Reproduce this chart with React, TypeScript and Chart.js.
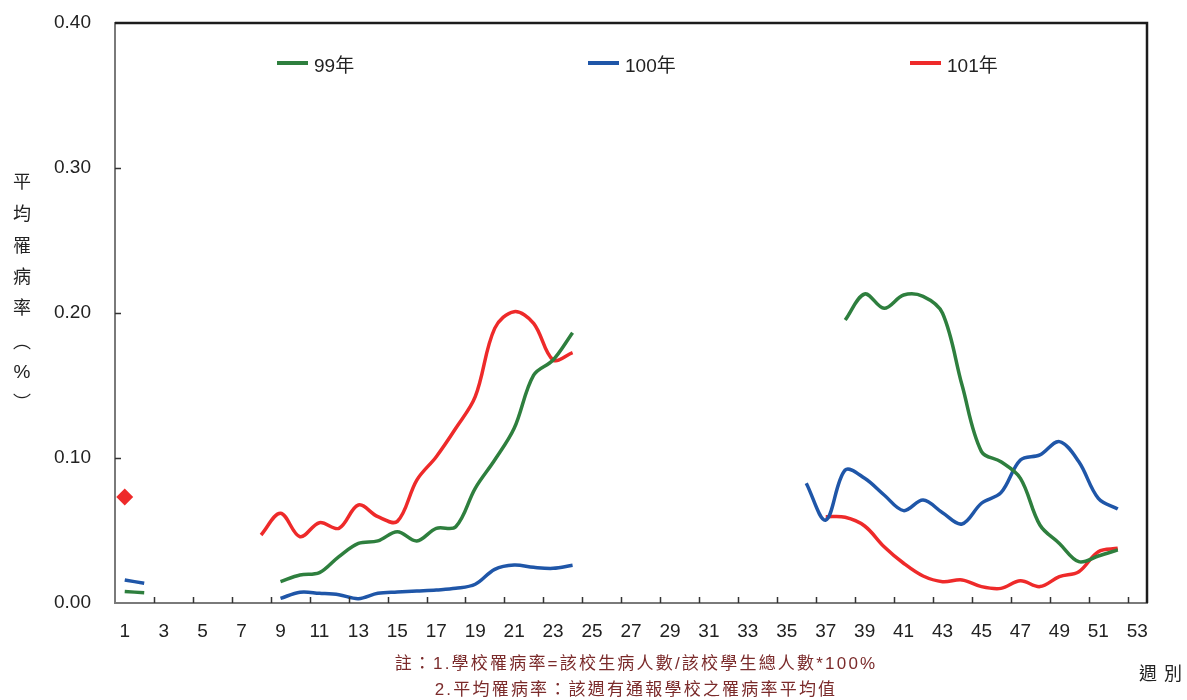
import React, { useEffect, useRef } from 'react';
import { Chart, registerables } from 'chart.js';

Chart.register(...registerables);

// Survey weeks of the year
const weeks = [
  1, 2, 3, 4, 5, 6, 7, 8, 9, 10, 11, 12, 13, 14, 15, 16, 17, 18, 19, 20, 21, 22, 23, 24, 25, 26, 27,
  28, 29, 30, 31, 32, 33, 34, 35, 36, 37, 38, 39, 40, 41, 42, 43, 44, 45, 46, 47, 48, 49, 50, 51, 52, 53,
];

// Labelled weeks on the x axis, and inner tick marks between week pairs
const xTickLabels = [1, 3, 5, 7, 9, 11, 13, 15, 17, 19, 21, 23, 25, 27, 29, 31, 33, 35, 37, 39, 41, 43, 45, 47, 49, 51, 53];
const xTickMarks = [
  2.5, 4.5, 6.5, 8.5, 10.5, 12.5, 14.5, 16.5, 18.5, 20.5, 22.5, 24.5, 26.5, 28.5, 30.5, 32.5, 34.5,
  36.5, 38.5, 40.5, 42.5, 44.5, 46.5, 48.5, 50.5, 52.5,
];
const yTickValues = [0, 0.1, 0.2, 0.3, 0.4];

const seriesNames = ['99年', '100年', '101年'];
const seriesColors = ['#2e7f3e', '#1f56a8', '#ee2a2a'];

// Average sick rate (%) per week; null = no reports that week
const rate99 = [
  0.008, 0.007, null, null, null, null, null, null,
  0.0147, 0.0193, 0.0209, 0.032, 0.0411, 0.0428, 0.0492, 0.0428, 0.0515, 0.0526,
  0.0791, 0.0986, 0.1205, 0.1572, 0.1676, 0.1864,
  null, null, null, null, null, null, null, null, null, null, null, null, null,
  0.1952, 0.2131, 0.2032, 0.2124, 0.2115, 0.1998, 0.1503, 0.1044, 0.0974, 0.086,
  0.0538, 0.0411, 0.0285, 0.0324, 0.0366, null,
];

const rate100 = [
  0.0159, 0.0136, null, null, null, null, null, null,
  0.0032, 0.0074, 0.0067, 0.0057, 0.003, 0.0067, 0.0076, 0.0083, 0.009, 0.0101,
  0.0129, 0.0232, 0.0262, 0.0246, 0.0239, 0.026,
  null, null, null, null, null, null, null, null, null, null, null,
  0.0826, 0.0572, 0.0917, 0.086, 0.0745, 0.0637, 0.071, 0.0623, 0.0545, 0.0688,
  0.0761, 0.0986, 0.1021, 0.1113, 0.0974, 0.0722, 0.0648, null,
];

const rate101 = [
  0.0731, null, null, null, null, null, null,
  0.0469, 0.0619, 0.0457, 0.0554, 0.0515, 0.0676, 0.0595, 0.0563, 0.0848, 0.1009,
  0.1205, 0.1423, 0.1894, 0.2009, 0.1929, 0.1676, 0.1726,
  null, null, null, null, null, null, null, null, null, null, null, null,
  0.0595, 0.0591, 0.0531, 0.0388, 0.0274, 0.0186, 0.0147, 0.0159, 0.0113, 0.0101,
  0.0154, 0.0113, 0.0182, 0.0216, 0.0354, 0.0377, null,
];

const seriesValues = [rate99, rate100, rate101];

const yTitleChars = ['平', '均', '罹', '病', '率', '︵', '%', '︶'];
const yTitleCenters = [180, 212, 244, 275, 306, 340, 372, 401];
const legendLeft = [277, 588, 910];
const noteLines = [
  '註：1.學校罹病率=該校生病人數/該校學生總人數*100%',
  '2.平均罹病率：該週有通報學校之罹病率平均值',
];

const latinFont = '"Liberation Sans", Arial, "Noto Sans CJK TC", sans-serif';
const cjkFont = '"Noto Sans CJK TC", "Liberation Sans", sans-serif';

// Draws the black top/right frame and the short inward tick marks
const framePlugin = {
  id: 'frame',
  afterDraw(chart: any) {
    const { ctx, chartArea: a, scales } = chart;
    const xs = scales.x;
    const ys = scales.y;
    ctx.save();
    ctx.strokeStyle = '#333333';
    ctx.lineWidth = 1.5;
    ctx.beginPath();
    for (const v of xTickMarks) {
      const px = Math.round(xs.getPixelForValue(v)) + 0.5;
      ctx.moveTo(px, a.bottom);
      ctx.lineTo(px, a.bottom - 6);
    }
    for (const v of yTickValues) {
      if (v === 0 || v === 0.4) continue;
      const py = Math.round(ys.getPixelForValue(v)) + 0.5;
      ctx.moveTo(a.left, py);
      ctx.lineTo(a.left + 6, py);
    }
    ctx.stroke();
    ctx.strokeStyle = '#1c1c1c';
    ctx.lineWidth = 2.5;
    ctx.beginPath();
    ctx.moveTo(a.left, a.top);
    ctx.lineTo(a.right, a.top);
    ctx.lineTo(a.right, a.bottom);
    ctx.stroke();
    ctx.restore();
  },
};

export default function App() {
  const canvasRef = useRef<HTMLCanvasElement | null>(null);

  useEffect(() => {
    const canvas = canvasRef.current;
    if (!canvas) return;

    const datasets = seriesValues.map((vals, si) => ({
      label: seriesNames[si],
      data: weeks.map((w, i) => ({ x: w, y: vals[i] })),
      borderColor: seriesColors[si],
      backgroundColor: seriesColors[si],
      borderWidth: 3.5,
      tension: 0.35,
      spanGaps: false,
      pointStyle: 'rectRot' as const,
      pointRadius: (c: any) => {
        const i = c.dataIndex;
        const isolated = vals[i] != null && vals[i - 1] == null && vals[i + 1] == null;
        return isolated ? 6 : 0;
      },
      pointHoverRadius: 0,
      borderCapStyle: 'butt' as const,
    }));

    const chart = new Chart(canvas, {
      type: 'line',
      data: { datasets },
      options: {
        responsive: false,
        animation: false,
        events: [],
        layout: { padding: { left: 0, right: 40, top: 23, bottom: 0 } },
        plugins: { legend: { display: false }, tooltip: { enabled: false } },
        scales: {
          x: {
            type: 'linear',
            min: 0.5,
            max: 53.5,
            afterFit: (s: any) => {
              s.height = 97;
              s.paddingLeft = 0;
              s.paddingRight = 0;
            },
            afterBuildTicks: (s: any) => {
              s.ticks = xTickLabels.map((v) => ({ value: v }));
            },
            ticks: {
              autoSkip: false,
              maxRotation: 0,
              padding: 17,
              color: '#222222',
              font: { family: latinFont, size: 19 },
              callback: (v: any) => String(v),
            },
            grid: { display: false, drawTicks: false },
            border: { display: true, color: '#7a7a7a', width: 2 },
          },
          y: {
            min: 0,
            max: 0.4,
            afterFit: (s: any) => {
              s.width = 115;
              s.paddingTop = 0;
              s.paddingBottom = 0;
            },
            afterBuildTicks: (s: any) => {
              s.ticks = yTickValues.map((v) => ({ value: v }));
            },
            ticks: {
              padding: 24,
              color: '#222222',
              font: { family: latinFont, size: 19 },
              callback: (v: any) => Number(v).toFixed(2),
            },
            grid: { display: false, drawTicks: false },
            border: { display: true, color: '#7a7a7a', width: 2 },
          },
        },
      },
      plugins: [framePlugin],
    });

    return () => chart.destroy();
  }, []);

  return (
    <div
      style={{
        position: 'fixed',
        left: 0,
        top: 0,
        width: 1187,
        height: 700,
        background: '#ffffff',
        overflow: 'hidden',
      }}
    >
      <canvas ref={canvasRef} width={1187} height={700} style={{ position: 'absolute', left: 0, top: 0 }} />

      {/* legend */}
      {seriesNames.map((name, i) => (
        <React.Fragment key={name}>
          <div
            style={{
              position: 'absolute',
              left: legendLeft[i],
              top: 61,
              width: 31,
              height: 4,
              background: seriesColors[i],
            }}
          />
          <div
            style={{
              position: 'absolute',
              left: legendLeft[i] + 37,
              top: 54,
              lineHeight: '24px',
              fontSize: 19,
              fontFamily: latinFont,
              color: '#222222',
              whiteSpace: 'nowrap',
            }}
          >
            {name}
          </div>
        </React.Fragment>
      ))}

      {/* vertical y-axis title */}
      {yTitleChars.map((ch, i) => (
        <div
          key={i}
          style={{
            position: 'absolute',
            left: 8,
            width: 28,
            top: yTitleCenters[i] - 12,
            height: 24,
            lineHeight: '24px',
            textAlign: 'center',
            fontSize: ch === '%' ? 19 : 18,
            fontFamily: ch === '%' ? latinFont : cjkFont,
            color: '#222222',
          }}
        >
          {ch}
        </div>
      ))}

      {/* notes under the axis */}
      {noteLines.map((line, i) => (
        <div
          key={i}
          style={{
            position: 'absolute',
            left: 136,
            width: 1000,
            top: 652 + i * 26,
            lineHeight: '24px',
            textAlign: 'center',
            fontSize: 17,
            letterSpacing: '2.2px',
            fontFamily: latinFont,
            color: '#7b2b2b',
            whiteSpace: 'nowrap',
          }}
        >
          {line}
        </div>
      ))}

      {/* x-axis title */}
      <div
        style={{
          position: 'absolute',
          left: 1139,
          top: 660,
          lineHeight: '24px',
          fontSize: 18,
          letterSpacing: '7px',
          fontFamily: cjkFont,
          color: '#222222',
          whiteSpace: 'nowrap',
        }}
      >
        週別
      </div>
    </div>
  );
}
